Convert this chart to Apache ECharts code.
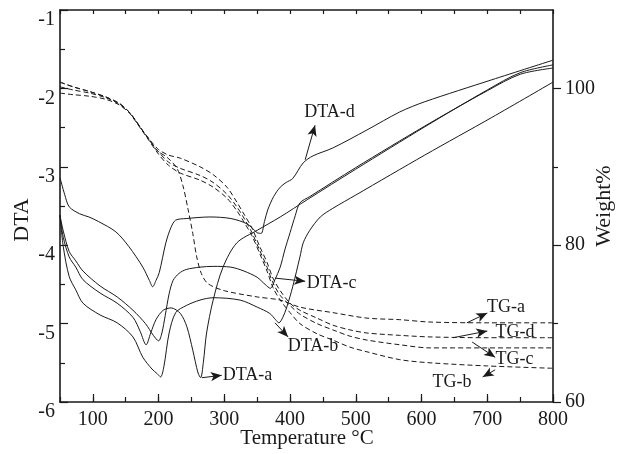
<!DOCTYPE html>
<html>
<head>
<meta charset="utf-8">
<script src="https://cdn.jsdelivr.net/npm/echarts@6/dist/echarts.min.js"></script>
<style>
  html, body { margin: 0; padding: 0; background: #fff; }
  #chart { width: 625px; height: 454px; }
</style>
</head>
<body>
<div id="chart"></div>
<script>
// DTA curves: [temperature °C, DTA signal]
const dtaA = [[50,-3.62],[55,-3.9],[64,-4.15],[74,-4.28],[85,-4.44],[111,-4.61],[137,-4.74],[161,-4.92],[172,-5.1],[181,-5.27],[188,-5.12],[196,-4.95],[207,-4.83],[219,-4.80],[233,-4.87],[243,-5.04],[252,-5.34],[260,-5.63],[264,-5.69],[268,-5.5],[273,-5.12],[283,-4.70],[298,-4.28],[319,-3.97],[350,-3.81],[385,-3.64],[426,-3.42],[500,-3.03],[605,-2.49],[700,-2.02],[750,-1.80],[800,-1.70]];
const dtaB = [[50,-3.62],[55,-4.02],[64,-4.4],[74,-4.57],[85,-4.74],[111,-4.89],[137,-4.99],[161,-5.17],[176,-5.43],[190,-5.58],[198,-5.64],[203,-5.68],[208,-5.55],[216,-5.12],[226,-4.86],[242,-4.77],[263,-4.70],[283,-4.67],[324,-4.70],[350,-4.79],[369,-4.87],[378,-4.95],[383,-4.99],[389,-4.92],[395,-4.79],[404,-4.53],[415,-4.15],[420,-3.97],[430,-3.81],[446,-3.64],[465,-3.53],[500,-3.36],[605,-2.85],[707,-2.37],[800,-1.92]];
const dtaC = [[50,-3.62],[55,-3.82],[64,-4.08],[74,-4.2],[85,-4.33],[111,-4.52],[137,-4.66],[161,-4.83],[180,-5.0],[192,-5.15],[200,-5.22],[205,-5.12],[210,-4.9],[216,-4.62],[222,-4.45],[231,-4.36],[242,-4.31],[263,-4.28],[283,-4.27],[310,-4.28],[330,-4.33],[350,-4.41],[362,-4.5],[370,-4.55],[377,-4.44],[385,-4.28],[392,-4.06],[400,-3.84],[408,-3.62],[415,-3.46],[430,-3.38],[500,-3.01],[605,-2.48],[700,-2.03],[750,-1.82],[800,-1.74]];
const dtaD = [[50,-3.14],[57,-3.35],[64,-3.51],[80,-3.6],[94,-3.64],[109,-3.70],[135,-3.83],[155,-4.02],[176,-4.28],[186,-4.45],[191,-4.53],[196,-4.45],[201,-4.35],[211,-3.97],[219,-3.77],[226,-3.68],[242,-3.66],[278,-3.64],[310,-3.66],[335,-3.73],[350,-3.84],[356,-3.85],[361,-3.7],[366,-3.55],[375,-3.38],[385,-3.26],[394,-3.2],[404,-3.15],[420,-2.95],[435,-2.86],[465,-2.76],[517,-2.53],[567,-2.30],[605,-2.17],[707,-1.89],[800,-1.64]];

// TG curves: [temperature °C, weight %]
const tgA = [[50,100.8],[70,100.2],[95,99.6],[120,98.9],[140,98.1],[155,97.0],[165,95.9],[175,94.7],[185,93.6],[197,92.1],[213,91.2],[228,89.8],[237,87.6],[245,84.5],[252,81.5],[258,78.5],[265,76.4],[275,75.1],[300,74.2],[350,73.4],[385,73.0],[415,72.1],[465,71.4],[517,70.7],[567,70.5],[613,70.2],[700,70.1],[800,70.1]];
const tgB = [[50,99.4],[70,99.2],[95,99.0],[120,98.6],[140,97.9],[155,96.9],[165,95.8],[175,94.6],[185,93.4],[200,91.6],[215,90.2],[233,89.2],[263,88.3],[283,87.4],[304,86.0],[319,84.4],[331,82.8],[342,81.2],[354,78.9],[365,76.7],[374,74.6],[385,73.0],[400,71.4],[415,70.0],[441,68.7],[465,67.9],[491,67.0],[517,66.4],[567,65.4],[613,65.0],[700,64.6],[800,64.3]];
const tgC = [[50,100.2],[70,99.8],[95,99.4],[120,98.8],[140,98.0],[155,97.0],[165,95.9],[175,94.7],[185,93.5],[200,91.9],[215,90.6],[233,89.8],[263,88.9],[283,88.0],[304,86.5],[319,84.9],[331,83.3],[342,81.6],[354,79.3],[365,77.2],[374,75.2],[385,73.6],[400,72.3],[415,71.2],[441,70.0],[465,69.2],[491,68.4],[517,67.9],[567,67.3],[613,66.9],[700,66.9],[800,66.9]];
const tgD = [[50,100.8],[70,100.2],[95,99.6],[120,98.9],[140,98.1],[155,97.0],[165,95.9],[175,94.7],[185,93.6],[200,92.2],[215,91.5],[233,91.1],[263,90.0],[283,89.0],[304,87.4],[319,85.5],[331,83.8],[342,82.2],[354,79.8],[365,77.8],[374,75.8],[385,74.2],[400,72.6],[415,71.7],[441,70.7],[465,69.8],[491,69.2],[517,68.8],[567,68.5],[613,68.3],[700,68.2],[800,68.2]];

// Tick values
const xLabelValues = [100, 200, 300, 400, 500, 600, 700, 800];
const weightLabelValues = [60, 80, 100];
const weightMinorValues = [70, 90];

// Curve callouts: [arrow tail], [arrow head], [text anchor]
const calloutDtaA = [[266, -5.69], [296, -5.66], [296, -5.66]];
const calloutDtaB = [[377, -4.99], [397, -5.17], [395, -5.29]];
const calloutDtaC = [[377, -4.42], [423, -4.46], [424, -4.48]];
const calloutDtaD = [[423, -2.91], [438, -2.47], [420, -2.31]];
const calloutTgA = [[669, 70.1], [700, 71.35], [698, 72.1]];
const calloutTgD = [[648, 68.2], [700, 69.05], [711, 68.9]];
const calloutTgC = [[677, 67.65], [712, 65.7], [711, 65.4]];
const calloutTgB = [[712, 64.1], [693, 63.2], [615, 62.55]];

const serif = '"Liberation Serif", "Times New Roman", serif';
const ink = '#1a1a1a';

function callout(pts, text) {
  return {
    markLine: {
      silent: true,
      animation: false,
      symbol: ['none', 'arrow'],
      symbolSize: [7, 11],
      lineStyle: { color: ink, width: 1, type: 'solid' },
      label: { show: false },
      data: [[{ coord: pts[0] }, { coord: pts[1] }]]
    },
    markPoint: {
      silent: true,
      animation: false,
      symbol: 'circle',
      symbolSize: 0,
      data: [{
        coord: pts[2],
        label: {
          show: true,
          position: 'right',
          distance: 1,
          formatter: text,
          color: ink,
          fontFamily: serif,
          fontSize: 18
        }
      }]
    }
  };
}

function curve(name, data, yIndex, dashed, pts) {
  return Object.assign({
    name: name,
    type: 'line',
    xAxisIndex: 0,
    yAxisIndex: yIndex,
    data: data,
    smooth: 0.3,
    showSymbol: false,
    lineStyle: { color: ink, width: 1, type: dashed ? [5, 3] : 'solid' },
    z: 3
  }, callout(pts, name));
}

const axisLineStyle = { color: ink, width: 1.6 };
const tickStyle = { color: ink, width: 1.2 };

const option = {
  animation: false,
  backgroundColor: '#fff',
  grid: { left: 60, right: 72, top: 10, bottom: 52 },
  xAxis: [
    {
      type: 'value', position: 'bottom', min: 50, max: 800, interval: 50,
      axisLine: { show: true, lineStyle: axisLineStyle },
      axisTick: { show: true, inside: true, length: 5, lineStyle: tickStyle },
      axisLabel: {
        show: true, customValues: xLabelValues, margin: 8,
        color: ink, fontFamily: serif, fontSize: 20
      },
      splitLine: { show: false }
    },
    {
      type: 'value', position: 'bottom', min: 50, max: 800,
      axisLine: { show: false },
      axisTick: { show: true, inside: true, length: 8, customValues: xLabelValues, lineStyle: tickStyle },
      axisLabel: { show: false },
      splitLine: { show: false }
    },
    {
      type: 'value', position: 'top', min: 50, max: 800, interval: 50,
      axisLine: { show: true, lineStyle: axisLineStyle },
      axisTick: { show: true, inside: true, length: 4, lineStyle: tickStyle },
      axisLabel: { show: false },
      splitLine: { show: false }
    }
  ],
  yAxis: [
    {
      type: 'value', position: 'left', min: -6, max: -1, interval: 1,
      axisLine: { show: true, lineStyle: axisLineStyle },
      axisTick: { show: true, inside: true, length: 8, lineStyle: tickStyle },
      minorTick: { show: true, splitNumber: 2, length: 5, lineStyle: tickStyle },
      axisLabel: {
        color: ink, fontFamily: serif, fontSize: 20, margin: 5,
        verticalAlign: 'top'
      },
      splitLine: { show: false }
    },
    {
      type: 'value', position: 'right', min: 60, max: 110,
      axisLine: { show: true, lineStyle: axisLineStyle },
      axisTick: { show: true, inside: false, length: 8, customValues: weightLabelValues, lineStyle: tickStyle },
      axisLabel: {
        customValues: weightLabelValues, margin: 12,
        color: ink, fontFamily: serif, fontSize: 20
      },
      splitLine: { show: false }
    },
    {
      type: 'value', position: 'right', min: 60, max: 110,
      axisLine: { show: false },
      axisTick: { show: true, inside: false, length: 5, customValues: weightMinorValues, lineStyle: tickStyle },
      axisLabel: { show: false },
      splitLine: { show: false }
    }
  ],
  graphic: [
    {
      type: 'text', x: 22, y: 220, rotation: Math.PI / 2,
      style: { text: 'DTA', font: '22px ' + serif, fill: ink, align: 'center', verticalAlign: 'middle' }
    },
    {
      type: 'text', x: 604, y: 206, rotation: Math.PI / 2,
      style: { text: 'Weight%', font: '22px ' + serif, fill: ink, align: 'center', verticalAlign: 'middle' }
    },
    {
      type: 'text', x: 307, y: 438,
      style: { text: 'Temperature °C', font: '21px ' + serif, fill: ink, align: 'center', verticalAlign: 'middle' }
    }
  ],
  series: [
    curve('DTA-a', dtaA, 0, false, calloutDtaA),
    curve('DTA-b', dtaB, 0, false, calloutDtaB),
    curve('DTA-c', dtaC, 0, false, calloutDtaC),
    curve('DTA-d', dtaD, 0, false, calloutDtaD),
    curve('TG-a', tgA, 1, true, calloutTgA),
    curve('TG-b', tgB, 1, true, calloutTgB),
    curve('TG-c', tgC, 1, true, calloutTgC),
    curve('TG-d', tgD, 1, true, calloutTgD)
  ]
};

const chart = echarts.init(document.getElementById('chart'), null, { renderer: 'canvas' });
chart.setOption(option);
</script>
</body>
</html>
